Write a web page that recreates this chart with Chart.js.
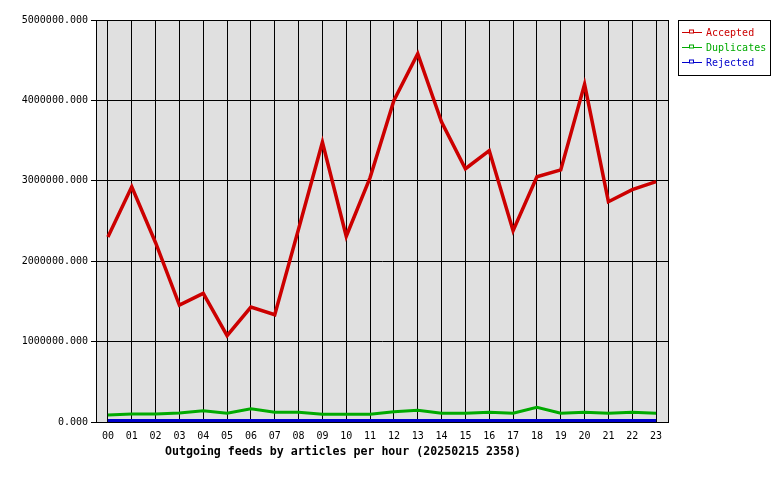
<!DOCTYPE html>
<html lang="en">
<head>
    <meta charset="UTF-8">
    <title>Outgoing feeds by articles per hour</title>
    <script src="https://cdn.jsdelivr.net/npm/chart.js"></script>
    <style>
        body { margin: 0; background: #fff; }
        #chart { display: block; }
    </style>
</head>
<body>
    <canvas id="chart" width="780" height="480"></canvas>

    <script>
        // data
        const hours = ['00','01','02','03','04','05','06','07','08','09','10','11',
                       '12','13','14','15','16','17','18','19','20','21','22','23'];
        const accepted = [2300000, 2925000, 2230000, 1455000, 1600000, 1075000, 1430000, 1335000,
                          2400000, 3480000, 2310000, 3040000, 4000000, 4580000, 3730000, 3150000,
                          3375000, 2380000, 3050000, 3135000, 4200000, 2740000, 2890000, 2990000];
        const duplicates = [87000, 100000, 100000, 112000, 140000, 108000, 165000, 120000,
                            120000, 96000, 96000, 96000, 126000, 145000, 108000, 108000,
                            120000, 108000, 183000, 108000, 120000, 108000, 120000, 108000];
        const rejected = [18000, 18000, 18000, 18000, 18000, 18000, 18000, 18000,
                          18000, 18000, 18000, 18000, 18000, 18000, 18000, 18000,
                          18000, 18000, 18000, 18000, 18000, 18000, 18000, 18000];
        const yTicks = [0, 1000000, 2000000, 3000000, 4000000, 5000000];
        const chartTitle = 'Outgoing feeds by articles per hour (20250215 2358)';

        const MONO = '"DejaVu Sans Mono", "Liberation Mono", monospace';

        // grey plot background, frame, title and boxed legend
        const gdLook = {
            id: 'gdLook',
            beforeDraw(chart) {
                const a = chart.chartArea;
                const ctx = chart.ctx;
                ctx.save();
                ctx.fillStyle = '#e0e0e0';
                ctx.fillRect(a.left, a.top, a.right - a.left, a.bottom - a.top);
                ctx.restore();
            },
            afterDraw(chart) {
                const a = chart.chartArea;
                const ctx = chart.ctx;
                ctx.save();
                ctx.strokeStyle = '#000';
                ctx.lineWidth = 1;
                ctx.strokeRect(a.left + 0.5, a.top + 0.5, a.right - a.left, a.bottom - a.top);

                // title under the axis
                ctx.fillStyle = '#000';
                ctx.font = 'bold 11.6px ' + MONO;
                ctx.textAlign = 'center';
                ctx.textBaseline = 'middle';
                ctx.fillText(chartTitle, 343, 452);

                // legend
                ctx.fillStyle = '#fff';
                ctx.fillRect(678, 20, 92, 55);
                ctx.strokeRect(678.5, 20.5, 92, 55);
                ctx.font = '10px ' + MONO;
                ctx.textAlign = 'left';
                chart.data.datasets.forEach((ds, i) => {
                    const y = 32.5 + i * 15;
                    ctx.strokeStyle = ds.borderColor;
                    ctx.lineWidth = 1;
                    ctx.beginPath();
                    ctx.moveTo(682, y);
                    ctx.lineTo(702, y);
                    ctx.stroke();
                    ctx.fillStyle = '#fff';
                    ctx.fillRect(690, y - 2, 4, 3);
                    ctx.strokeRect(689.5, y - 2.5, 4, 3);
                    ctx.fillStyle = ds.borderColor;
                    ctx.fillText(ds.label, 706, y + 1);
                });
                ctx.restore();
            }
        };

        function makeSet(label, values, color, width) {
            return {
                label: label,
                data: values,
                borderColor: color,
                backgroundColor: color,
                borderWidth: width,
                pointRadius: 0,
                tension: 0,
                fill: false
            };
        }

        new Chart(document.getElementById('chart'), {
            type: 'line',
            data: {
                labels: hours,
                datasets: [
                    makeSet('Accepted', accepted, '#cc0000', 3.5),
                    makeSet('Duplicates', duplicates, '#00aa00', 3),
                    makeSet('Rejected', rejected, '#0000cc', 3)
                ]
            },
            options: {
                responsive: false,
                animation: false,
                layout: { padding: { top: 20, right: 112, left: 0, bottom: 0 } },
                plugins: {
                    legend: { display: false },
                    tooltip: { enabled: false }
                },
                scales: {
                    x: {
                        offset: true,
                        grid: { color: '#000', offset: false, drawTicks: false },
                        border: { color: '#000' },
                        ticks: { color: '#000', padding: 8, font: { family: MONO, size: 10 },
                                 maxRotation: 0, autoSkip: false },
                        afterFit(scale) { scale.height = 58; }
                    },
                    y: {
                        min: yTicks[0],
                        max: yTicks[yTicks.length - 1],
                        afterBuildTicks(scale) { scale.ticks = yTicks.map(v => ({ value: v })); },
                        grid: { color: '#000', tickLength: 5 },
                        border: { color: '#000' },
                        ticks: { color: '#000', padding: 3, font: { family: MONO, size: 10 },
                                 callback: v => v.toFixed(3) },
                        afterFit(scale) { scale.width = 96; }
                    }
                }
            },
            plugins: [gdLook]
        });
    </script>
</body>
</html>
